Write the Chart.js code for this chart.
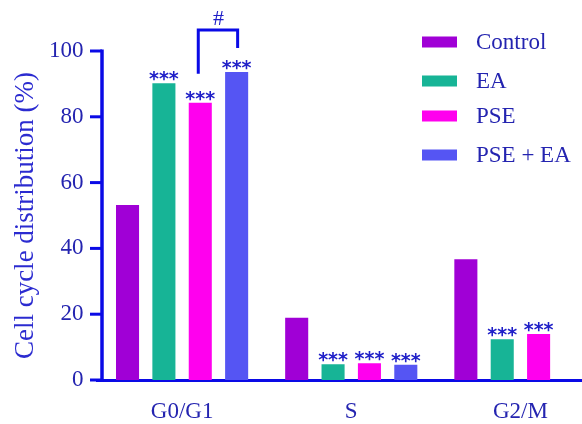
<!DOCTYPE html>
<html>
<head>
<meta charset="utf-8">
<script src="https://cdn.jsdelivr.net/npm/chart.js@4.4.1/dist/chart.umd.min.js"></script>
<style>
  html, body { margin: 0; padding: 0; background: #ffffff; overflow: hidden; }
  #wrap { width: 605px; height: 424px; }
</style>
</head>
<body>
<div id="wrap"><canvas id="c" width="605" height="424"></canvas></div>
<script>
// Cell cycle phases and the share of cells (%) in each phase per treatment
const phases = ['G0/G1', 'S', 'G2/M'];
const seriesNames = ['Control', 'EA', 'PSE', 'PSE + EA'];
const controlValues = [53.2, 18.9, 36.7];
const eaValues = [90.2, 4.8, 12.4];
const pseValues = [84.3, 5.1, 14.0];
const pseEaValues = [93.6, 4.6, null];
// significance marks vs control, per phase
const controlMarks = ['', '', ''];
const eaMarks = ['***', '***', '***'];
const pseMarks = ['***', '***', '***'];
const pseEaMarks = ['***', '***', ''];
const yTicks = [0, 20, 40, 60, 80, 100];

const colors = ['#a000d6', '#17b496', '#ff00ee', '#5555f3'];
const axisBlue = '#0a0ae6';
const textBlue = '#2424b0';
const serif = '"Liberation Serif", "Times New Roman", serif';

const valueSets = [controlValues, eaValues, pseValues, pseEaValues];
const markSets = [controlMarks, eaMarks, pseMarks, pseEaMarks];

const datasets = seriesNames.map((name, i) => ({
  label: name,
  data: valueSets[i],
  backgroundColor: colors[i],
  borderWidth: 0,
  marks: markSets[i],
  categoryPercentage: 0.86,
  barPercentage: 0.634
}));

// axis line, tick marks, star labels, bracket and legend
const decorations = {
  id: 'decorations',
  afterDraw(chart) {
    const ctx = chart.ctx;
    const y = chart.scales.y;
    const area = chart.chartArea;
    const axisX = area.left + 4.5;
    ctx.save();
    // y axis line with outward ticks
    ctx.strokeStyle = axisBlue;
    ctx.lineWidth = 3.5;
    ctx.beginPath();
    ctx.moveTo(axisX, y.getPixelForValue(100) - 1.5);
    ctx.lineTo(axisX, y.getPixelForValue(0) + 1.5);
    ctx.stroke();
    ctx.lineWidth = 3;
    yTicks.forEach(v => {
      const py = y.getPixelForValue(v);
      ctx.beginPath();
      ctx.moveTo(axisX - 12, py);
      ctx.lineTo(axisX, py);
      ctx.stroke();
    });

    // significance stars above bars
    ctx.fillStyle = '#2020c8';
    ctx.font = 'bold 19px "DejaVu Sans", sans-serif';
    ctx.textAlign = 'center';
    ctx.textBaseline = 'alphabetic';
    chart.data.datasets.forEach((ds, di) => {
      const meta = chart.getDatasetMeta(di);
      ds.marks.forEach((m, i) => {
        const el = meta.data[i];
        if (!m || !el || ds.data[i] == null) return;
        ctx.fillText(m, el.x, el.y + 2);
      });
    });

    // bracket between PSE and PSE + EA in G0/G1
    const a = chart.getDatasetMeta(2).data[0];
    const b = chart.getDatasetMeta(3).data[0];
    const topY = b.y - 42;
    ctx.strokeStyle = axisBlue;
    ctx.lineWidth = 3;
    ctx.beginPath();
    ctx.moveTo(a.x - 2, a.y - 29);
    ctx.lineTo(a.x - 2, topY);
    ctx.lineTo(b.x + 1, topY);
    ctx.lineTo(b.x + 1, b.y - 24);
    ctx.stroke();
    ctx.fillStyle = '#2020c8';
    ctx.font = '22px ' + serif;
    ctx.textBaseline = 'alphabetic';
    ctx.fillText('#', (a.x + b.x) / 2, topY - 5);

    // legend
    const rowsY = [42, 81, 116, 155];
    ctx.textAlign = 'left';
    ctx.textBaseline = 'middle';
    ctx.font = '23px ' + serif;
    chart.data.datasets.forEach((ds, i) => {
      ctx.fillStyle = ds.backgroundColor;
      ctx.fillRect(422, rowsY[i] - 5.5, 35, 11);
      ctx.fillStyle = textBlue;
      ctx.fillText(ds.label, 476, rowsY[i] + 1);
    });
    ctx.restore();
  }
};

new Chart(document.getElementById('c'), {
  type: 'bar',
  data: { labels: phases, datasets },
  options: {
    responsive: false,
    animation: false,
    devicePixelRatio: 1,
    layout: { padding: { top: 51, right: 0, left: 0, bottom: 0 } },
    plugins: { legend: { display: false }, tooltip: { enabled: false } },
    scales: {
      x: {
        grid: { display: false, drawTicks: false },
        border: { display: true, color: axisBlue, width: 3 },
        ticks: { color: textBlue, font: { family: serif, size: 23 }, padding: 18 },
        afterFit(scale) { scale.height = 44; }
      },
      y: {
        min: 0,
        max: 100,
        afterBuildTicks(scale) { scale.ticks = yTicks.map(v => ({ value: v })); },
        grid: { display: false, drawTicks: false },
        border: { display: false },
        ticks: { color: textBlue, font: { family: serif, size: 23 }, padding: 14 },
        title: {
          display: true,
          text: 'Cell cycle distribution (%)',
          color: '#2b2bd0',
          font: { family: serif, size: 27 },
          padding: { top: 10, bottom: 0 }
        },
        afterFit(scale) { scale.width = 97.5; }
      }
    }
  },
  plugins: [decorations]
});
</script>
</body>
</html>
